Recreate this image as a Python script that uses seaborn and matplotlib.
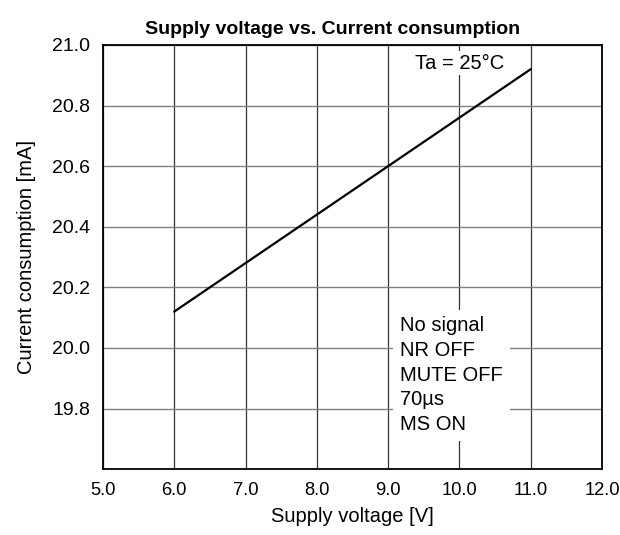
import matplotlib
matplotlib.use("Agg")
import matplotlib.pyplot as plt
import seaborn as sns
import pandas as pd

# Data
supply_voltage = [6.0, 11.0]
current_mA = [20.12, 20.92]
x_ticks = [5.0, 6.0, 7.0, 8.0, 9.0, 10.0, 11.0, 12.0]
y_ticks = [19.8, 20.0, 20.2, 20.4, 20.6, 20.8, 21.0]
conditions = ["No signal", "NR OFF", "MUTE OFF", "70µs", "MS ON"]


def main():
    sns.set_style("white")
    plt.rcParams["font.family"] = ["Liberation Sans", "DejaVu Sans"]
    plt.rcParams["text.color"] = "black"

    df = pd.DataFrame({"V": supply_voltage, "I": current_mA})

    fig = plt.figure(figsize=(6.2, 5.35), dpi=100)
    ax = fig.add_axes([0.166, 0.123, 0.805, 0.793])

    sns.lineplot(data=df, x="V", y="I", color="black", linewidth=1.6, ax=ax)

    ax.set_xlim(5.0, 12.0)
    ax.set_ylim(19.6, 21.0)
    ax.set_xticks(x_ticks)
    ax.set_yticks(y_ticks)
    ax.set_xticklabels([f"{t:.1f}" for t in x_ticks])
    ax.set_yticklabels([f"{t:.1f}" for t in y_ticks])
    ax.tick_params(length=0, labelsize=14, pad=9, labelcolor="black")
    ax.tick_params(axis="x", labelsize=13.2)

    ax.xaxis.grid(True, color="#333333", linewidth=0.9)
    ax.yaxis.grid(True, color="#808080", linewidth=1.0)
    ax.set_axisbelow(True)
    for s in ax.spines.values():
        s.set_color("black")
        s.set_linewidth(1.3)

    ax.set_xlabel("Supply voltage [V]", fontsize=14.5, labelpad=6, color="black")
    ax.set_ylabel("Current consumption [mA]", fontsize=14.5, labelpad=12, color="black")
    ax.set_title("Supply voltage vs. Current consumption", fontsize=14,
                 fontweight="bold", pad=8, color="black", x=0.461)

    ax.text(10.0, 20.94, "Ta = 25°C", fontsize=14.5, ha="center", va="center",
            bbox=dict(facecolor="white", edgecolor="none", pad=2))
    ax.text(9.17, 19.91, "\n".join(conditions), fontsize=14.5, ha="left",
            va="center", linespacing=1.38,
            bbox=dict(facecolor="white", edgecolor="none", pad=5))

    fig.savefig("out.png", dpi=100)


if __name__ == "__main__":
    main()
